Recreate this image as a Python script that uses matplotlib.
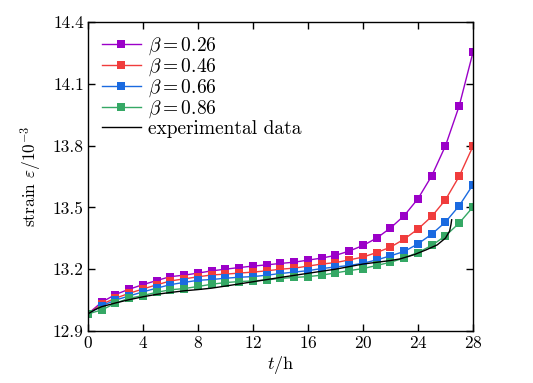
import numpy as np
import matplotlib
matplotlib.use("Agg")
import matplotlib.pyplot as plt

# ---------------------------
# data
# ---------------------------
hours = np.arange(0, 29)

strain_026 = [12.983, 13.040, 13.077, 13.103, 13.125, 13.145, 13.164, 13.171, 13.181, 13.192,
              13.200, 13.208, 13.215, 13.221, 13.228, 13.234, 13.244, 13.254, 13.267, 13.288,
              13.315, 13.351, 13.400, 13.460, 13.542, 13.653, 13.799, 13.993, 14.253]
strain_046 = [12.983, 13.030, 13.059, 13.083, 13.104, 13.124, 13.143, 13.153, 13.163, 13.172,
              13.176, 13.181, 13.186, 13.192, 13.200, 13.205, 13.215, 13.225, 13.232, 13.245,
              13.259, 13.281, 13.307, 13.346, 13.395, 13.456, 13.537, 13.651, 13.797]
strain_066 = [12.983, 13.022, 13.050, 13.070, 13.090, 13.108, 13.125, 13.136, 13.146, 13.150,
              13.156, 13.161, 13.164, 13.171, 13.179, 13.186, 13.193, 13.203, 13.211, 13.218,
              13.229, 13.245, 13.265, 13.286, 13.323, 13.370, 13.429, 13.508, 13.610]
strain_086 = [12.983, 13.002, 13.035, 13.059, 13.072, 13.088, 13.100, 13.106, 13.116, 13.127,
              13.135, 13.140, 13.143, 13.148, 13.155, 13.160, 13.164, 13.171, 13.182, 13.193,
              13.203, 13.218, 13.234, 13.254, 13.281, 13.315, 13.362, 13.424, 13.502]

exp_t = [0, 0.5, 1, 2, 3, 4, 5, 6, 7, 8, 9, 10, 12, 14, 16, 18, 20, 22, 22.7, 23.7,
         24.6, 25.4, 26.0, 26.3, 26.4, 26.45]
exp_strain = [12.983, 13.003, 13.018, 13.036, 13.052, 13.066, 13.078, 13.087, 13.095, 13.101,
              13.108, 13.118, 13.139, 13.160, 13.180, 13.200, 13.225, 13.242, 13.250, 13.270,
              13.294, 13.318, 13.351, 13.385, 13.417, 13.440]

betas = ["0.26", "0.46", "0.66", "0.86"]
series = [strain_026, strain_046, strain_066, strain_086]
colors = ["#9B00C8", "#F03C3C", "#1A6AE0", "#35A865"]

# ---------------------------
# plot
# ---------------------------
plt.rcParams["font.family"] = "cmr10"
plt.rcParams["mathtext.fontset"] = "cm"
plt.rcParams["axes.formatter.use_mathtext"] = True

fig = plt.figure(figsize=(5.33, 3.83), dpi=100)
ax = fig.add_axes([0.165, 0.1358, 0.7224, 0.8068])

for b, s, c in zip(betas, series, colors):
    ax.plot(hours, s, color=c, lw=1.0, marker="s", markersize=5.8,
            markeredgewidth=0, label=r"$\beta=%s$" % b)
ax.plot(exp_t, exp_strain, color="black", lw=1.0, label="experimental data")

ax.set_xlim(0, 28)
ax.set_ylim(12.9, 14.4)
ax.set_xticks(np.arange(0, 29, 4))
ax.set_yticks([12.9, 13.2, 13.5, 13.8, 14.1, 14.4])
ax.set_yticklabels(["12.9", "13.2", "13.5", "13.8", "14.1", "14.4"])
ax.tick_params(direction="in", top=True, right=True, length=5, width=1,
               labelsize=12.5, pad=3)
for sp in ax.spines.values():
    sp.set_linewidth(1.0)

ax.set_xlabel(r"$t/\mathrm{h}$", fontsize=13, labelpad=2)
ax.set_ylabel(r"strain $\varepsilon/10^{-3}$", fontsize=12.5, labelpad=6)

ax.legend(loc="upper left", frameon=False, fontsize=14, handlelength=2.05,
          handletextpad=0.32, labelspacing=-0.03, borderaxespad=0.3,
          bbox_to_anchor=(0.0, 1.0))

fig.savefig("out.png", dpi=100)
